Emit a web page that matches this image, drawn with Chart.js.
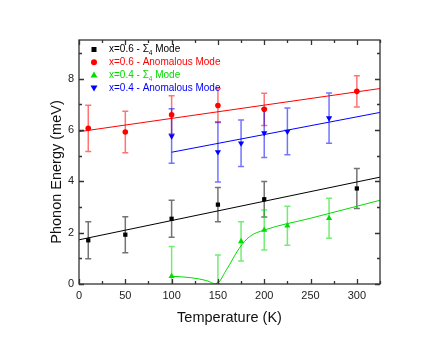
<!DOCTYPE html>
<html>
<head>
<meta charset="utf-8">
<script src="https://cdn.jsdelivr.net/npm/chart.js@4/dist/chart.umd.min.js"></script>
<style>
  html, body { margin: 0; padding: 0; background: #fff; }
</style>
</head>
<body>
<canvas id="chart" width="443" height="342"></canvas>
<script>
// measured points (temperature in K, energy in meV, half error bar)
var t_06 = [10, 50, 100, 150, 200, 300];
var e_06_sigma = [1.70, 1.92, 2.54, 3.09, 3.30, 3.72];
var err_06_sigma = [0.72, 0.70, 0.72, 0.67, 0.69, 0.78];
var e_06_anom = [6.06, 5.92, 6.59, 6.95, 6.80, 7.50];
var err_06_anom = [0.90, 0.81, 0.74, 0.66, 0.63, 0.61];

var t_04 = [100, 150, 175, 200, 225, 270];
var e_04_sigma = [0.30, 0.00, 1.66, 2.10, 2.27, 2.56];
var err_04_sigma = [1.16, 1.13, 0.76, 0.78, 0.76, 0.78];
var e_04_anom = [5.76, 5.14, 5.48, 5.88, 5.94, 6.46];
var err_04_anom = [1.06, 1.17, 0.91, 0.95, 0.91, 0.98];

// guide lines drawn through the data
var fit_06_sigma_t = [0, 325];
var fit_06_sigma_e = [1.72, 4.16];
var fit_06_anom_t = [0, 325];
var fit_06_anom_e = [5.93, 7.61];
var fit_04_anom_t = [100, 325];
var fit_04_anom_e = [5.13, 6.68];
var fit_04_sigma_t = [100, 120, 138, 148, 159, 173, 184, 200, 250, 325];
var fit_04_sigma_e = [0.30, 0.25, 0.13, 0.00, 0.54, 1.39, 1.84, 2.10, 2.56, 3.26];

// axis ticks
var x_major = [0, 50, 100, 150, 200, 250, 300];
var x_minor = [25, 75, 125, 175, 225, 275, 325];
var y_major = [0, 2, 4, 6, 8];
var y_minor = [1, 3, 5, 7, 9];

var y_title = 'Phonon Energy (meV)';

var legend_rows = [
  { pre: 'x=0.6 - \u03A3', sub: '4', post: ' Mode', color: '#000000', shape: 'rect' },
  { pre: 'x=0.6 - Anomalous Mode', sub: '', post: '', color: '#ff0000', shape: 'circle' },
  { pre: 'x=0.4 - \u03A3', sub: '4', post: ' Mode', color: '#00dd00', shape: 'tri' },
  { pre: 'x=0.4 - Anomalous Mode', sub: '', post: '', color: '#0000ff', shape: 'tridown' }
];

var FONT = '"Liberation Sans", Arial, sans-serif';

function points(t, e, err) {
  return t.map(function (v, i) {
    var p = { x: v, y: e[i] };
    if (err) { p.lo = e[i] - err[i]; p.hi = e[i] + err[i]; }
    return p;
  });
}

function markers(t, e, err, color, style, radius, rotation) {
  return {
    data: points(t, e, err),
    pointStyle: style,
    pointRadius: radius,
    pointRotation: rotation || 0,
    backgroundColor: color,
    borderColor: color,
    borderWidth: 0,
    showLine: false,
    errColor: color,
    order: 0
  };
}

function guide(t, e, color, smooth) {
  return {
    data: points(t, e),
    showLine: true,
    borderColor: color,
    borderWidth: 1,
    pointRadius: 0,
    cubicInterpolationMode: smooth ? 'monotone' : 'default',
    order: 1
  };
}

function hexAlpha(hex, a) {
  var r = parseInt(hex.slice(1, 3), 16), g = parseInt(hex.slice(3, 5), 16), b = parseInt(hex.slice(5, 7), 16);
  return 'rgba(' + r + ',' + g + ',' + b + ',' + a + ')';
}

// error bars, clipped to the plot box
var errorBars = {
  id: 'errorBars',
  beforeDatasetsDraw: function (chart) {
    var ctx = chart.ctx, a = chart.chartArea, xs = chart.scales.x, ys = chart.scales.y;
    ctx.save();
    ctx.beginPath();
    ctx.rect(a.left, a.top, a.right - a.left, a.bottom - a.top);
    ctx.clip();
    chart.data.datasets.forEach(function (ds) {
      if (!ds.errColor) return;
      ctx.strokeStyle = hexAlpha(ds.errColor, 0.55);
      ctx.lineWidth = 1.5;
      ds.data.forEach(function (p) {
        var px = xs.getPixelForValue(p.x);
        var y1 = ys.getPixelForValue(p.lo), y2 = ys.getPixelForValue(p.hi);
        ctx.beginPath();
        ctx.moveTo(px, y1); ctx.lineTo(px, y2);
        ctx.moveTo(px - 3, y1); ctx.lineTo(px + 3, y1);
        ctx.moveTo(px - 3, y2); ctx.lineTo(px + 3, y2);
        ctx.stroke();
      });
    });
    ctx.restore();
  }
};

// box with inward ticks on all four sides, plus the y title
var frame = {
  id: 'frame',
  afterDraw: function (chart) {
    var ctx = chart.ctx, a = chart.chartArea, xs = chart.scales.x, ys = chart.scales.y;
    ctx.save();
    ctx.strokeStyle = '#333';
    ctx.lineWidth = 1.3;
    ctx.strokeRect(a.left, a.top, a.right - a.left, a.bottom - a.top);
    ctx.beginPath();
    function xt(v, len) {
      var px = Math.round(xs.getPixelForValue(v)) + 0.5;
      ctx.moveTo(px, a.bottom); ctx.lineTo(px, a.bottom - len);
      ctx.moveTo(px, a.top); ctx.lineTo(px, a.top + len);
    }
    function yt(v, len) {
      var py = Math.round(ys.getPixelForValue(v)) + 0.5;
      ctx.moveTo(a.left, py); ctx.lineTo(a.left + len, py);
      ctx.moveTo(a.right, py); ctx.lineTo(a.right - len, py);
    }
    x_major.forEach(function (v) { xt(v, 5); });
    x_minor.forEach(function (v) { xt(v, 3); });
    y_major.forEach(function (v) { yt(v, 5); });
    y_minor.forEach(function (v) { yt(v, 3); });
    ctx.stroke();

    ctx.translate(57, 172);
    ctx.rotate(-Math.PI / 2);
    ctx.fillStyle = '#111';
    ctx.font = '14.5px ' + FONT;
    ctx.textAlign = 'center';
    ctx.textBaseline = 'middle';
    ctx.fillText(y_title, 0, 0);
    ctx.restore();
  }
};

// legend sitting inside the plot, text in series colours
var insideLegend = {
  id: 'insideLegend',
  afterDraw: function (chart) {
    var ctx = chart.ctx;
    var mx = 94, tx = 109, y0 = 49.5, dy = 12.8;
    ctx.save();
    ctx.textBaseline = 'middle';
    legend_rows.forEach(function (row, i) {
      var y = y0 + i * dy;
      ctx.fillStyle = row.color;
      ctx.beginPath();
      if (row.shape === 'rect') ctx.rect(mx - 2.5, y - 2.5, 5, 5);
      else if (row.shape === 'circle') ctx.arc(mx, y, 3, 0, Math.PI * 2);
      else if (row.shape === 'tri') { ctx.moveTo(mx, y - 3.5); ctx.lineTo(mx + 3.5, y + 2.5); ctx.lineTo(mx - 3.5, y + 2.5); }
      else { ctx.moveTo(mx, y + 3.5); ctx.lineTo(mx + 3.5, y - 2.5); ctx.lineTo(mx - 3.5, y - 2.5); }
      ctx.fill();
      ctx.font = '10px ' + FONT;
      ctx.fillText(row.pre, tx, y);
      var w = ctx.measureText(row.pre).width;
      if (row.sub) {
        ctx.font = '6.5px ' + FONT;
        ctx.fillText(row.sub, tx + w, y + 4);
        w += ctx.measureText(row.sub).width;
        ctx.font = '10px ' + FONT;
        ctx.fillText(row.post, tx + w, y);
      }
    });
    ctx.restore();
  }
};

new Chart(document.getElementById('chart'), {
  type: 'scatter',
  data: {
    datasets: [
      markers(t_06, e_06_sigma, err_06_sigma, '#000000', 'rect', 3),
      markers(t_06, e_06_anom, err_06_anom, '#ff0000', 'circle', 2.8),
      markers(t_04, e_04_sigma, err_04_sigma, '#00dd00', 'triangle', 3.6),
      markers(t_04, e_04_anom, err_04_anom, '#0000ff', 'triangle', 3.6, 180),
      guide(fit_06_sigma_t, fit_06_sigma_e, '#000000'),
      guide(fit_06_anom_t, fit_06_anom_e, '#ff0000'),
      guide(fit_04_anom_t, fit_04_anom_e, '#0000ff'),
      guide(fit_04_sigma_t, fit_04_sigma_e, '#00dd00', true)
    ]
  },
  options: {
    responsive: false,
    animation: false,
    devicePixelRatio: 1,
    layout: { padding: { left: 0, right: 63, top: 40, bottom: 15 } },
    plugins: { legend: { display: false }, tooltip: { enabled: false } },
    scales: {
      x: {
        type: 'linear',
        min: 0,
        max: 325,
        afterBuildTicks: function (s) { s.ticks = x_major.map(function (v) { return { value: v }; }); },
        afterFit: function (s) { s.height = 43; },
        grid: { display: false, drawTicks: false },
        border: { display: false },
        ticks: { padding: 5, color: '#222', font: { family: FONT, size: 11 } },
        title: {
          display: true,
          text: 'Temperature (K)',
          color: '#111',
          padding: { top: 4, bottom: 0 },
          font: { family: FONT, size: 14.5 }
        }
      },
      y: {
        type: 'linear',
        min: 0,
        max: 9.5,
        afterBuildTicks: function (s) { s.ticks = y_major.map(function (v) { return { value: v }; }); },
        afterFit: function (s) { s.width = 79; },
        grid: { display: false, drawTicks: false },
        border: { display: false },
        ticks: { padding: 5, color: '#222', font: { family: FONT, size: 11 } }
      }
    }
  },
  plugins: [errorBars, frame, insideLegend]
});
</script>
</body>
</html>
